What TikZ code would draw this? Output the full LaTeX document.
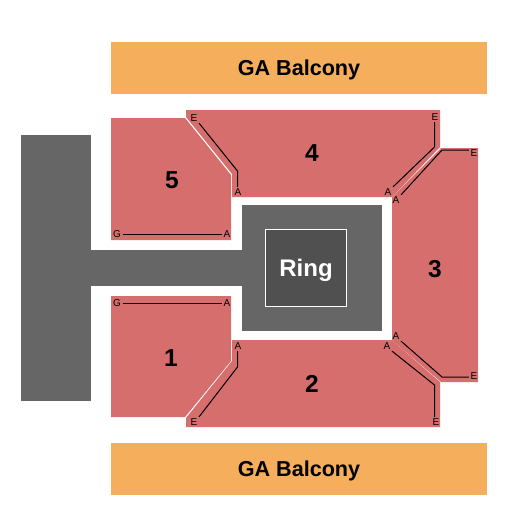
\documentclass[tikz,border=0pt]{standalone}
\usepackage{fontspec}
\setmainfont{Liberation Sans}
\usepackage{xcolor}
\definecolor{sectionred}{HTML}{D66E6E}
\definecolor{balconyorange}{HTML}{F5AE5B}
\definecolor{floorgray}{HTML}{666666}
\definecolor{ringgray}{HTML}{505050}
\begin{document}
\begin{tikzpicture}[
        x=1pt, y=-1pt,
        section/.style = {fill=sectionred},
        floor/.style = {fill=floorgray},
        balcony/.style = {fill=balconyorange, minimum width=376pt, minimum height=52pt, inner sep=0, text depth=0pt, font=\fontsize{21.6}{21.6}\selectfont\bfseries},
        ringbox/.style = {draw=white, fill=ringgray, line width=0.7pt, minimum width=81pt, minimum height=77pt, inner sep=0, text depth=0pt, text=white, font=\fontsize{24}{24}\selectfont\bfseries},
        seatno/.style = {inner sep=0, font=\fontsize{24.5}{24.5}\selectfont\bfseries},
        rowlabel/.style = {inner sep=1.5pt, font=\fontsize{10}{10}\selectfont},
        aisle/.style = {draw=black, line width=1pt},
    ]
        \useasboundingbox (0,0) rectangle (525,525);
        \fill[white] (0,0) rectangle (525,525);
        % floor
        \fill[floor] (21,135) rectangle (91,401);
        \fill[floor] (91,250) rectangle (243,286);
        \fill[floor] (242,205) rectangle (382,331);
        \node[ringbox] (ring) at (306,268) {Ring};
        % balconies
        \node[balcony] (top) at (299,68) {GA Balcony};
        \node[balcony] (bottom) at (299,469) {GA Balcony};
        % sections
        \fill[section] (111,118) -- (185,118) -- (231,175) -- (231,240) -- (111,240) -- cycle;
        \fill[section] (186,110) -- (440,110) -- (440,147) -- (392,197) -- (232,197) -- (232,174) -- (186,117) -- cycle;
        \fill[section] (392,197) -- (441,148) -- (478,148) -- (478,382) -- (441,382) -- (392,340) -- cycle;
        \fill[section] (186,427) -- (440,427) -- (440,382) -- (392,340) -- (232,340) -- (232,361) -- (186,418) -- cycle;
        \fill[section] (111,296) -- (231,296) -- (231,361) -- (185,417) -- (111,417) -- cycle;
        \node[seatno] (s5) at (172,180) {5};
        \node[seatno] (s4) at (312,153) {4};
        \node[seatno] (s3) at (435,269) {3};
        \node[seatno] (s2) at (312,384) {2};
        \node[seatno] (s1) at (171,358) {1};
        % row labels
        \node[rowlabel] (g5) at (117,234) {G};
        \node[rowlabel] (a5) at (227,234) {A};
        \node[rowlabel] (e4l) at (194,118) {E};
        \node[rowlabel] (a4l) at (238,192) {A};
        \node[rowlabel] (a4r) at (388,192) {A};
        \node[rowlabel] (e4r) at (435,117) {E};
        \node[rowlabel] (a3t) at (396,200) {A};
        \node[rowlabel] (e3t) at (474,153) {E};
        \node[rowlabel] (a3b) at (396,336) {A};
        \node[rowlabel] (e3b) at (474,376) {E};
        \node[rowlabel] (a2r) at (387,346) {A};
        \node[rowlabel] (e2r) at (436,422) {E};
        \node[rowlabel] (a2l) at (238,346) {A};
        \node[rowlabel] (e2l) at (194,422) {E};
        \node[rowlabel] (g1) at (117,303) {G};
        \node[rowlabel] (a1) at (227,303) {A};
        % aisle bends
        \coordinate (b4l) at (237.5,171);
        \coordinate (b4r) at (434.5,147);
        \coordinate (b3t) at (442,150);
        \coordinate (b3b) at (442,377);
        \coordinate (b2r) at (434.5,385);
        \coordinate (b2l) at (237.5,367);
        \draw[aisle] (g5) -- (a5);
        \draw[aisle] (e4l.south east) -- (b4l) -- (b4l |- a4l.north);
        \draw[aisle] (a4r.north east) -- (b4r) -- (b4r |- e4r.south);
        \draw[aisle] (a3t.north east) -- (b3t) -- (b3t -| e3t.west);
        \draw[aisle] (a3b.south east) -- (b3b) -- (b3b -| e3b.west);
        \draw[aisle] (a2r.south east) -- (b2r) -- (b2r |- e2r.north);
        \draw[aisle] (b2l |- a2l.south) -- (b2l) -- (e2l.north east);
        \draw[aisle] (g1) -- (a1);
    \end{tikzpicture}
\end{document}
